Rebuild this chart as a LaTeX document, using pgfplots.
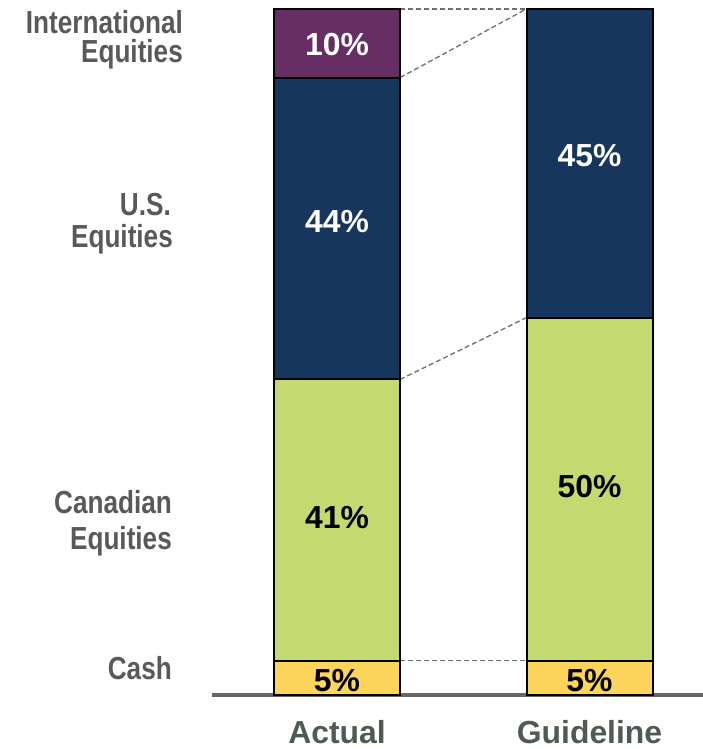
\documentclass[border=0pt]{standalone}
\usepackage{pgfplots}
\pgfplotsset{compat=1.18}
\usepackage{fontspec}
\setmainfont{Liberation Sans}
\newfontfamily\narrowfont{Liberation Sans}[FakeStretch=0.82]
\definecolor{intl}{HTML}{662E62}
\definecolor{usq}{HTML}{17365D}
\definecolor{cad}{HTML}{C4D96F}
\definecolor{cashc}{HTML}{FDD55B}
\definecolor{lbl}{HTML}{595959}
\definecolor{catlbl}{HTML}{4F5A50}
\definecolor{axgray}{HTML}{666666}
\definecolor{dashgray}{HTML}{6E6E6E}
\tikzset{vlab/.style={font=\fontsize{32}{32}\selectfont\bfseries, inner sep=0pt, anchor=base},
         clab/.style={font=\fontsize{32}{32}\selectfont\narrowfont\bfseries, text=lbl, inner sep=0pt, anchor=base east},
         conn/.style={dashgray, line width=1.3bp, dash pattern=on 5bp off 3bp}}
\pgfplotsset{common/.style={scale only axis, width=491bp, height=686bp,
  xmin=-0.495, xmax=1.4495, ymin=0, ymax=100, clip=false}}
\begin{document}
\begin{tikzpicture}
% connector lines
\begin{axis}[common, axis lines=none]
\addplot[conn] coordinates {(0.25,100) (0.75,100)};
\addplot[conn] coordinates {(0.25,90) (0.75,100)};
\addplot[conn] coordinates {(0.25,46) (0.75,55)};
\addplot[conn] coordinates {(0.25,5) (0.75,5)};
\end{axis}
% stacked bars
\begin{axis}[common,
  ybar stacked, bar width=126bp,
  axis x line*=bottom, hide y axis,
  x axis line style={axgray, line width=3bp, -},
  xtick={0,1}, xticklabels={Actual,Guideline},
  major tick length=0pt,
  xticklabel style={font=\fontsize{32}{32}\selectfont\bfseries, text=catlbl, anchor=base, inner sep=0pt, yshift=-48bp}]
\addplot[draw=black, line width=2bp, fill=cashc] coordinates {(0,5) (1,5)};
\addplot[draw=black, line width=2bp, fill=cad] coordinates {(0,41) (1,50)};
\addplot[draw=black, line width=2bp, fill=usq] coordinates {(0,44) (1,45)};
\addplot[draw=black, line width=2bp, fill=intl] coordinates {(0,10) (1,0)};
\end{axis}
% labels on top
\begin{axis}[common, axis lines=none]
\node[vlab, white] at (axis cs:0,93.15) {10\%};
\node[vlab, white] at (axis cs:0,67.35) {44\%};
\node[vlab, black] at (axis cs:0,24.2) {41\%};
\node[vlab, black] at (axis cs:0,0.58) {5\%};
\node[vlab, white] at (axis cs:1,76.97) {45\%};
\node[vlab, black] at (axis cs:1,28.72) {50\%};
\node[vlab, black] at (axis cs:1,0.58) {5\%};
\node[clab] at ([xshift=-29bp]axis cs:-0.495,96.5) {International};
\node[clab] at ([xshift=-29bp]axis cs:-0.495,92.13) {Equities};
\node[clab] at ([xshift=-41bp]axis cs:-0.495,69.83) {U.S.};
\node[clab] at ([xshift=-39bp]axis cs:-0.495,65.16) {Equities};
\node[clab] at ([xshift=-40bp]axis cs:-0.495,26.53) {Canadian};
\node[clab] at ([xshift=-40bp]axis cs:-0.495,21.14) {Equities};
\node[clab] at ([xshift=-40bp]axis cs:-0.495,2.33) {Cash};
\end{axis}
\pgfresetboundingbox
\path[use as bounding box] ([shift={(-212bp,-54bp)}]current axis.south west) rectangle ([shift={(0bp,9bp)}]current axis.north east);
\end{tikzpicture}
\end{document}
